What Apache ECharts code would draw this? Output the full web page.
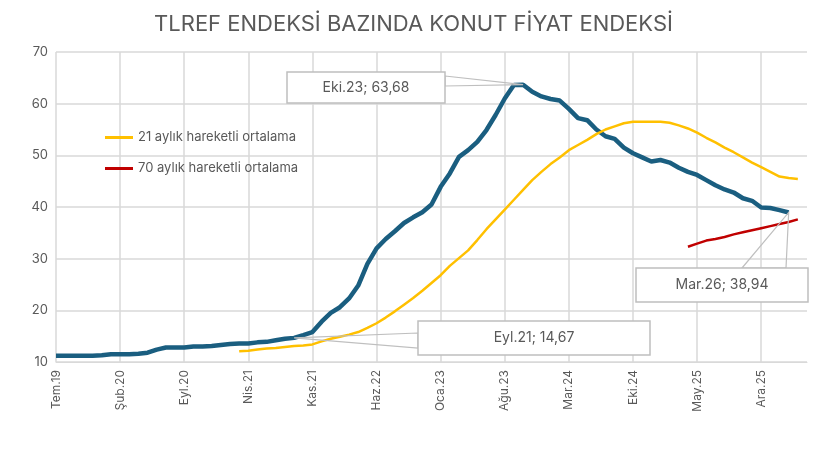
<!DOCTYPE html>
<html><head><meta charset="utf-8">
<script src="https://cdn.jsdelivr.net/npm/echarts@6/dist/echarts.min.js"></script>
<style>html,body{margin:0;padding:0;background:#fff}#c{width:827px;height:452px}</style>
</head><body><div id="c"></div>
<script>
const monthNames = ['Oca','Şub','Mar','Nis','May','Haz','Tem','Ağu','Eyl','Eki','Kas','Ara'];
const categories = [];
for (let i = 0; i < 83; i++) { const m = (6 + i) % 12; const y = 19 + Math.floor((6 + i) / 12); categories.push(monthNames[m] + '.' + y); }
const mainSeries = [11.2,11.2,11.2,11.2,11.2,11.3,11.5,11.5,11.5,11.6,11.8,12.4,12.8,12.8,12.8,13.0,13.0,13.1,13.3,13.5,
13.6,13.6,13.8,13.9,14.2,14.5,14.67,15.2,15.8,17.8,19.5,20.6,22.3,24.8,29.0,32.0,33.8,35.3,36.9,38.0,
39.0,40.5,43.9,46.5,49.7,51.0,52.6,54.9,57.8,61.0,63.6,63.68,62.3,61.4,60.9,60.6,59.0,57.2,56.8,55.0,
53.7,53.2,51.5,50.4,49.6,48.8,49.1,48.6,47.6,46.8,46.2,45.2,44.2,43.4,42.8,41.7,41.2,39.9,39.8,39.4,38.94];
const ma21 = [null,null,null,null,null,null,null,null,null,null,null,null,null,null,null,null,null,null,null,null,
12.1,12.2,12.4,12.6,12.7,12.9,13.1,13.2,13.4,14.0,14.5,14.9,15.3,15.8,16.6,17.5,18.6,19.8,21.1,22.4,
23.8,25.3,26.8,28.6,30.1,31.6,33.6,35.7,37.6,39.5,41.4,43.3,45.2,46.8,48.3,49.6,51.0,52.0,53.0,54.1,
55.0,55.6,56.2,56.5,56.5,56.5,56.5,56.3,55.8,55.2,54.4,53.4,52.5,51.5,50.6,49.6,48.6,47.7,46.8,45.9,45.6,45.4];
const ma70 = new Array(69).fill(null).concat([32.3,32.9,33.5,33.8,34.2,34.7,35.1,35.5,35.9,36.3,36.7,37.1,37.6]);
const yTicks = [10,20,30,40,50,60,70];

const chart = echarts.init(document.getElementById('c'));
const font = 'Inter, "Noto Sans", sans-serif';
chart.setOption({
  animation:false,
  title:{text:'TLREF ENDEKSİ BAZINDA KONUT FİYAT ENDEKSİ',left:'center',top:8,textStyle:{fontFamily:font,fontSize:22,fontWeight:'normal',color:'#595959'}},
  legend:{left:100,top:126,orient:'vertical',itemGap:18,itemWidth:28,itemHeight:3,icon:'rect',data:['21 aylık hareketli ortalama','70 aylık hareketli ortalama'],textStyle:{fontFamily:font,fontSize:13,color:'#595959'}},
  grid:{left:56,right:20,top:52,bottom:90},
  xAxis:{type:'category',data:categories,boundaryGap:false,
    axisLine:{lineStyle:{color:'#d9d9d9'}},axisTick:{show:false},
    axisLabel:{interval:6,rotate:90,fontFamily:font,fontSize:12,color:'#595959'},
    splitLine:{show:true,interval:6,lineStyle:{color:'#d9d9d9',width:1.5}}},
  yAxis:{type:'value',min:yTicks[0],max:yTicks[yTicks.length-1],interval:10,
    axisLine:{show:false},axisTick:{show:false},
    axisLabel:{fontFamily:font,fontSize:13,color:'#595959'},
    splitLine:{lineStyle:{color:'#d9d9d9',width:1.5}}},
  series:[
    {name:'Endeks',type:'line',data:mainSeries,symbol:'none',lineStyle:{color:'#1a5e80',width:4.5},itemStyle:{color:'#1a5e80'},z:3},
    {name:'21 aylık hareketli ortalama',type:'line',data:ma21,symbol:'none',lineStyle:{color:'#FFC000',width:2.5},itemStyle:{color:'#FFC000'}},
    {name:'70 aylık hareketli ortalama',type:'line',data:ma70,symbol:'none',lineStyle:{color:'#C00000',width:2.5},itemStyle:{color:'#C00000'}}
  ]
});
function pt(i){return chart.convertToPixel({xAxisIndex:0,yAxisIndex:0},[i,mainSeries[i]]);}
function fmt(v){return v.toFixed(2).replace('.',',');}
const notes=[
  {i:51,box:[287,72,158,31],leads:[[445,76],[445,86]]},
  {i:26,box:[418,321,232,34],leads:[[418,333],[418,348]]},
  {i:80,box:[636,268,172,34],leads:[[742,268],[786,268]]}
];
const g=[];
notes.forEach(n=>{
  const p=pt(n.i);
  g.push({type:'polygon',shape:{points:[n.leads[0],p,n.leads[1]]},style:{fill:'none',stroke:'#bfbfbf',lineWidth:1.2},z:10});
  g.push({type:'rect',shape:{x:n.box[0],y:n.box[1],width:n.box[2],height:n.box[3]},style:{fill:'#fff',stroke:'#bfbfbf',lineWidth:1.5},z:11});
  g.push({type:'text',x:n.box[0]+n.box[2]/2,y:n.box[1]+n.box[3]/2,style:{text:categories[n.i]+'; '+fmt(mainSeries[n.i]),align:'center',verticalAlign:'middle',font:'14px '+font,fill:'#595959'},z:12});
});
chart.setOption({graphic:g});
</script></body></html>
